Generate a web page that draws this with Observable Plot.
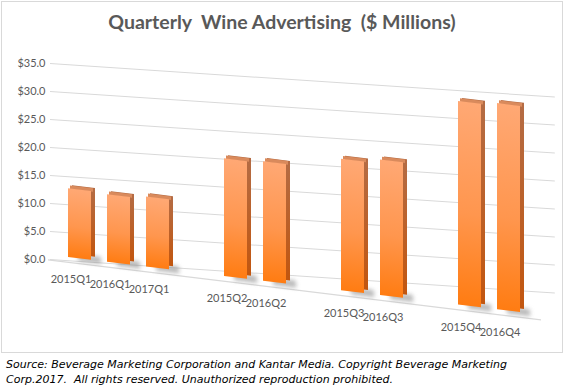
<!DOCTYPE html>
<html>
<head>
<meta charset="utf-8">
<script src="https://cdn.jsdelivr.net/npm/d3@7"></script>
<script src="https://cdn.jsdelivr.net/npm/@observablehq/plot@0.6"></script>
<style>
  html, body { margin: 0; padding: 0; background: #fff; }
  #frame { position: absolute; left: 1px; top: 1px; width: 560px; height: 350px; border: 1px solid #d9d9d9; background: #fff; }
  #title { position: absolute; left: 0; top: 8px; width: 560px; text-align: center; font-family: Lato, sans-serif; font-weight: 700; font-size: 19.5px; color: #595959; white-space: pre; }
  #chart { position: absolute; left: 0; top: 40px; }
  #caption { position: absolute; left: 6px; top: 357px; font-family: "DejaVu Sans", Verdana, sans-serif; font-style: italic; font-size: 11px; line-height: 15px; color: #000; white-space: pre; }
</style>
</head>
<body>
<div id="frame">
  <div id="title">Quarterly  Wine Advertising  ($ Millions)</div>
  <div id="chart"></div>
</div>
<div id="caption">Source: Beverage Marketing Corporation and Kantar Media. Copyright Beverage Marketing
Corp.2017.  All rights reserved. Unauthorized reproduction prohibited.</div>
<script>
// ---- data ----
const quarters = ["2015Q1", "2016Q1", "2017Q1", "2015Q2", "2016Q2", "2015Q3", "2016Q3", "2015Q4", "2016Q4"];
const values   = [10.4, 10.2, 10.6, 17.8, 18.1, 19.9, 20.5, 30.8, 31.2];
const yTicks   = [0, 5, 10, 15, 20, 25, 30, 35];

const data = quarters.map((q, i) => ({quarter: q, value: values[i]}));

// band domain: quarters grouped by Q1..Q4 with an empty slot between groups
const qGroups = ["Q1", "Q2", "Q3", "Q4"];
const domain = qGroups.flatMap((g, i) => {
  const members = quarters.filter(q => q.endsWith(g));
  return i < qGroups.length - 1 ? [...members, "gap" + i] : members;
});

const W = 560, H = 310, ML = 46, MR = 21, MT = 21, MB = 93;
const sBars = 0.122, kBars = 1.18, sGrid = 0.068, gridStretch = 1.024;

const plot = Plot.plot({
  width: W, height: H,
  marginLeft: ML, marginRight: MR, marginTop: MT, marginBottom: MB,
  style: {fontFamily: "Lato, sans-serif", fontSize: "11px", color: "#595959", background: "transparent"},
  x: {domain, padding: 0.4, axis: null},
  y: {domain: [0, 35], ticks: yTicks, tickFormat: d => "$" + d.toFixed(1), tickSize: 0, tickPadding: 3, label: null},
  marks: [
    Plot.ruleY(yTicks, {stroke: "#d9d9d9", strokeWidth: 1}),                       // rule #0: grid
    Plot.ruleY([0], {stroke: "#d9d9d9", strokeWidth: 1, dy: 4}),                    // rule #1: floor edge
    Plot.tickY(data, {x: "quarter", y: () => 0, dx: 10, dy: -1, stroke: "#8a8a8a", strokeWidth: 6, strokeOpacity: 0.6}), // tick #0: shadow
    Plot.barY(data, {x: "quarter", y: "value", dx: 4, dy: -3, fill: "#bd6530"}),    // bar #0: side
    Plot.tickY(data, {x: "quarter", y: "value", dx: 2, dy: -1.6, stroke: "#d98a5c", strokeWidth: 3}), // tick #1: top face
    Plot.barY(data, {x: "quarter", y: "value", fill: "#ff9040"}),                   // bar #1: front
    Plot.text(data, {x: "quarter", text: "quarter", frameAnchor: "bottom", dx: -9, dy: 17.5, textAnchor: "middle", lineAnchor: "middle", fill: "#595959", fontSize: 11})
  ]
});

document.getElementById("chart").appendChild(plot);
const svg = d3.select(plot);

function groupsOf(type) {
  return Array.from(plot.children).filter(n => n.tagName.toLowerCase() === "g" && (n.getAttribute("aria-label") || "") === type);
}
const rules = groupsOf("rule");
const ticks = groupsOf("tick");
const bars = groupsOf("bar");
const texts = groupsOf("text");

// gradients for the faux-3D bars
const defs = svg.insert("defs", ":first-child");
const g1 = defs.append("linearGradient").attr("id", "frontGrad").attr("x1", 0).attr("y1", 0).attr("x2", 0).attr("y2", 1);
g1.append("stop").attr("offset", "0%").attr("stop-color", "#ffa874");
g1.append("stop").attr("offset", "55%").attr("stop-color", "#ff964e");
g1.append("stop").attr("offset", "100%").attr("stop-color", "#ff7c12");
const g2 = defs.append("linearGradient").attr("id", "sideGrad").attr("x1", 0).attr("y1", 0).attr("x2", 0).attr("y2", 1);
g2.append("stop").attr("offset", "0%").attr("stop-color", "#b46c45");
g2.append("stop").attr("offset", "100%").attr("stop-color", "#c2560f");

if (bars[1]) d3.select(bars[1]).attr("fill", "url(#frontGrad)").selectAll("rect").attr("fill", "url(#frontGrad)");
if (bars[0]) d3.select(bars[0]).attr("fill", "url(#sideGrad)").selectAll("rect").attr("fill", "url(#sideGrad)");
if (ticks[0]) d3.select(ticks[0]).style("filter", "blur(2px)");

// perspective-like skew of the floor / bars
const x0 = ML;
const Yp0 = H - MB;
const baseAtX0 = 212.5;
const fBars = baseAtX0 - sBars * x0 - kBars * Yp0;
const mBars = `matrix(1,${sBars},0,${kBars},0,${fBars})`;
const mGrid = `matrix(${gridStretch},${sGrid},0,1,${x0 + 2 - gridStretch * x0},${-sGrid * x0})`;
function prepend(node, m) {
  if (!node) return;
  const t = node.getAttribute("transform") || "";
  node.setAttribute("transform", m + " " + t);
}
prepend(rules[0], mGrid);
[rules[1], ticks[0], bars[0], ticks[1], bars[1]].forEach(n => prepend(n, mBars));

// move category labels down along the sloping floor, keeping glyphs upright
const svgRect = plot.getBoundingClientRect();
if (texts[0]) d3.select(texts[0]).selectAll("text").each(function() {
  const r = this.getBoundingClientRect();
  const cx = r.x + r.width / 2 - svgRect.x;
  const shift = sBars * (cx - x0);
  const t = this.getAttribute("transform") || "";
  this.setAttribute("transform", `translate(0,${shift}) ` + t);
});
</script>
</body>
</html>
